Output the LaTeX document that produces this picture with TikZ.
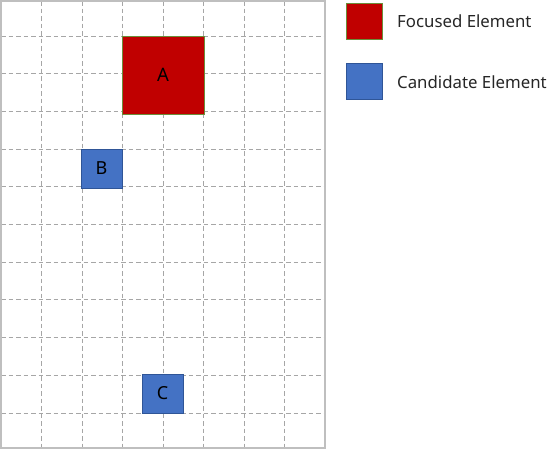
\documentclass[tikz,border=0pt]{standalone}
\usepackage{fontspec}
\setmainfont{Noto Sans}
\definecolor{focred}{HTML}{C00000}
\definecolor{focedge}{HTML}{6B8E3A}
\definecolor{candblue}{HTML}{4472C4}
\definecolor{candedge}{HTML}{2F5597}
\definecolor{gridgray}{HTML}{A6A6A6}
\definecolor{bordergray}{HTML}{BFBFBF}
\begin{document}
\begin{tikzpicture}[x=1pt,y=-1pt,
  gridline/.style={gridgray, line width=0.9pt, dash pattern=on 4.5pt off 3pt},
  focusbox/.style={draw=focedge, fill=focred, line width=0.8pt, inner sep=0pt, font=\fontsize{18.5}{20}\selectfont},
  candbox/.style={draw=candedge, fill=candblue, line width=0.8pt, inner sep=0pt, font=\fontsize{18}{20}\selectfont},
  legtext/.style={anchor=base west, inner sep=0pt, font=\fontsize{16.8}{19}\selectfont, text=black!85}]
\useasboundingbox (0,0) rectangle (554,450);
% grid
\foreach \i in {1,...,7} {
  \draw[gridline] ({1+40.5*\i},1) -- ({1+40.5*\i},448);
}
\foreach \j in {0,...,10} {
  \draw[gridline] (1,{36+37.7*\j}) -- (325,{36+37.7*\j});
}
\draw[bordergray, line width=1.4pt] (1,1) rectangle (325,448);
% elements
\node[focusbox, minimum width=82pt, minimum height=78pt] (A) at (163,75) {A};
\node[candbox, minimum width=41pt, minimum height=39pt] (B) at (101.5,168.5) {B};
\node[candbox, minimum width=41pt, minimum height=39pt] (C) at (162.5,393.5) {C};
% legend
\node[focusbox, minimum width=36pt, minimum height=36pt] (L1) at (364.5,21) {};
\node[candbox, minimum width=36pt, minimum height=36pt] (L2) at (364.5,81) {};
\node[legtext] (T1) at (397,27.3) {Focused Element};
\node[legtext] (T2) at (397,88) {Candidate Element};
\end{tikzpicture}
\end{document}
